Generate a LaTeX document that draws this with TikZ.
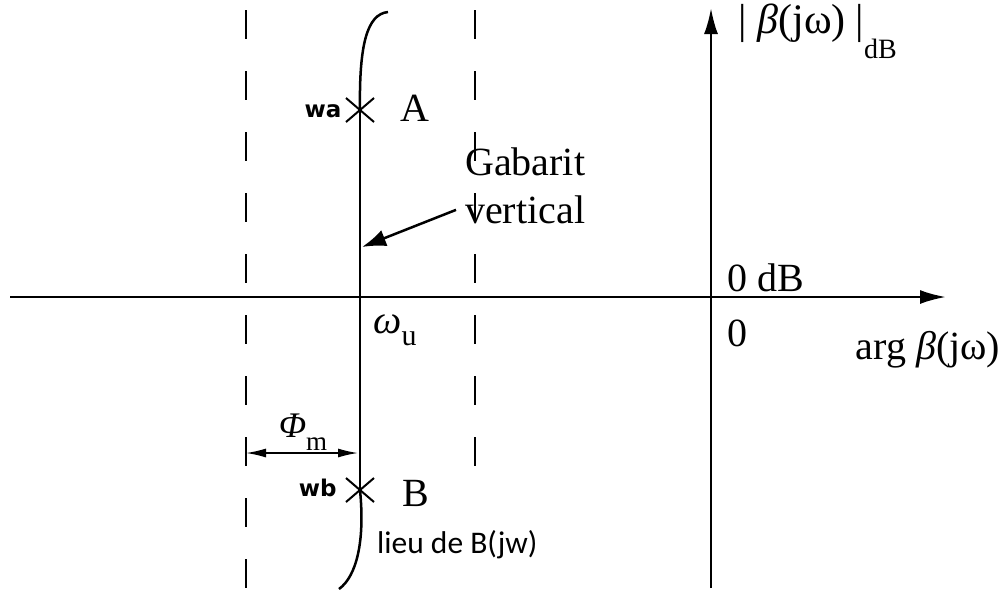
\documentclass[tikz,border=0pt]{standalone}
\usepackage{fontspec}
\setmainfont{Liberation Serif}
\newfontfamily\locusfont{Carlito}
\newfontfamily\pointfont{DejaVu Sans}
\usepackage{tikz}
\usetikzlibrary{arrows.meta, positioning, shapes.misc}

\tikzset{
    axis/.style={line width=2.5pt, -{Latex[length=26pt, width=14pt]}},
    guide/.style={line width=2.5pt, dash pattern=on 29pt off 32pt},
    locus/.style={line width=2.5pt},
    crosspt/.style={cross out, draw, line width=2pt, minimum width=26pt, minimum height=22pt, inner sep=0pt},
    serif/.style={font=\fontsize{40}{46}\selectfont},
    ptname/.style={font=\pointfont\bfseries\fontsize{23}{27}\selectfont},
    pointer/.style={line width=2.5pt, -{Latex[length=24pt, width=17pt]}},
    dimline/.style={line width=1.5pt, {Latex[length=20pt, width=9pt]}-{Latex[length=20pt, width=9pt]}}
}

\begin{document}
\begin{tikzpicture}[x=1pt, y=-1pt]
\useasboundingbox (0,0) rectangle (1006,590);

% axes
\coordinate (xl) at (10,297);
\coordinate (xr) at (946,297);
\coordinate (yb) at (711,588);
\coordinate (yt) at (711,8);
\draw[axis] (xl) -- (xr);
\draw[axis] (yb) -- (yt);

% dashed guides
\coordinate (gl1) at (246,10);
\coordinate (gl2) at (246,590);
\coordinate (gr1) at (475,10);
\coordinate (gr2) at (475,468);
\draw[guide] (gl1) -- (gl2);
\draw[guide] (gr1) -- (gr2);

% locus and the vertical template
\node[crosspt] (ptA) at (360,110) {};
\node[crosspt] (ptB) at (360,490) {};
\coordinate (topend) at (388,12);
\coordinate (botend) at (339,589);
\draw[locus] (ptA.center) -- (ptB.center);
\draw[locus] (ptA.center) .. controls (359,45) and (367,14) .. (topend);
\draw[locus] (ptB.center) .. controls (365,540) and (357,576) .. (botend);

\node[ptname, anchor=east] (wa) at (345,111) {wa};
\node[ptname, anchor=east] (wb) at (340,488) {wb};
\node[serif] (lblA) at (415,108) {A};
\node[serif] (lblB) at (416,493) {B};
\node[font=\locusfont\fontsize{31.5}{36}\selectfont, anchor=base west, inner sep=0pt] (lieu) at (377,553) {lieu de B(jw)};

\node[serif, anchor=base west, inner sep=0pt] (gab) at (465,175) {Gabarit};
\node[serif, inner sep=0pt, below right=20pt and 0pt of gab.south west] (vert) {vertical};
\coordinate[left=9pt of vert.west] (gs);
\coordinate (gv) at (362,247);
\draw[pointer] (gs) -- (gv);

% phase margin
\coordinate (phl) at (246,453);
\coordinate (phr) at (358,453);
\draw[dimline] (phl) -- (phr);
\node[serif] (phim) at (303,432) {\fontsize{36}{40}\selectfont\textit{Φ}\raisebox{-0.35em}{\fontsize{27}{30}\selectfont m}};

% axis labels
\node[serif] (wu) at (395,330) {\textit{ω}\raisebox{-0.3em}{\fontsize{30}{34}\selectfont u}};
\node[serif] (zdb) at (766,278) {0 dB};
\node[serif] (zero) at (737,333) {0};
\node[serif] (argb) at (928,350) {arg \textit{β}(jω)};
\node[serif, font=\fontsize{42}{46}\selectfont, anchor=west, inner sep=0pt] (magb) at (738,31) {|\hspace{11pt}\textit{β}(jω)\hspace{10pt}|\raisebox{-0.6em}{\fontsize{28}{32}\selectfont dB}};
\end{tikzpicture}
\end{document}
